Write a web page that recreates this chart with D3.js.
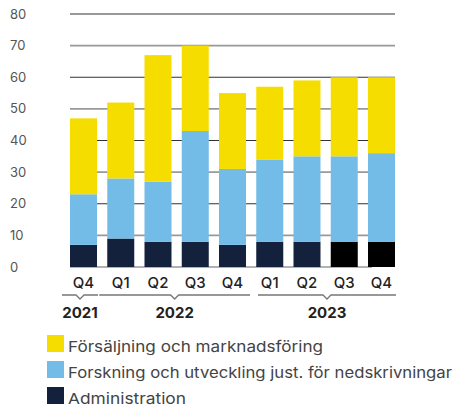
<!DOCTYPE html>
<html>
<head>
<meta charset="utf-8">
<script src="https://cdn.jsdelivr.net/npm/d3@7"></script>
<style>
  body { margin: 0; background: #fff; }
  svg { font-family: Inter, "Noto Sans", sans-serif; }
</style>
</head>
<body>
<svg width="455" height="407"></svg>
<script>
const quarters = ['Q4', 'Q1', 'Q2', 'Q3', 'Q4', 'Q1', 'Q2', 'Q3', 'Q4'];
const years = ['2021', '2022', '2023'];
const yearOf = [0, 1, 1, 1, 1, 2, 2, 2, 2];
const admin = [7, 9, 8, 8, 7, 8, 8, 8, 8];
const research = [16, 19, 19, 35, 24, 26, 27, 27, 28];
const sales = [24, 24, 40, 27, 24, 23, 24, 25, 24];
const seriesNames = ['Försäljning och marknadsföring', 'Forskning och utveckling just. för nedskrivningar', 'Administration'];
const yTicks = [0, 10, 20, 30, 40, 50, 60, 70, 80];

const svg = d3.select('svg');
const ids = d3.range(quarters.length);

const x = d3.scaleBand().domain(ids).range([70, 395]).paddingInner(0.275).paddingOuter(0);
const y = d3.scaleLinear().domain([0, 80]).range([267, 14]);

// gridlines
svg.append('g').selectAll('line')
  .data(yTicks.filter(d => d > 0))
  .enter().append('line')
  .attr('x1', 70).attr('x2', 395)
  .attr('y1', d => y(d)).attr('y2', d => y(d))
  .attr('stroke', d => d % 20 === 0 ? '#333' : '#999')
  .attr('stroke-width', d => d % 20 === 0 ? 1 : 1.6);

svg.append('line')
  .attr('x1', 70).attr('x2', 372)
  .attr('y1', y(0)).attr('y2', y(0))
  .attr('stroke', '#999').attr('stroke-width', 1.6);

svg.append('g').selectAll('text')
  .data(yTicks)
  .enter().append('text')
  .attr('x', 10)
  .attr('y', d => y(d))
  .attr('dy', '0.35em')
  .attr('fill', '#555')
  .style('font-size', '13px')
  .text(d => d);

// stacked bars
const rows = ids.map(i => ({ i, admin: admin[i], research: research[i], sales: sales[i] }));
const stack = d3.stack().keys(['admin', 'research', 'sales'])(rows);
const colors = { admin: '#14213d', research: '#74bce8', sales: '#f6dd00' };

svg.append('g').selectAll('g')
  .data(stack)
  .enter().append('g')
  .selectAll('rect')
  .data(s => s.map(d => ({ key: s.key, d })))
  .enter().append('rect')
  .attr('x', o => x(o.d.data.i))
  .attr('width', x.bandwidth())
  .attr('y', o => y(o.d[1]))
  .attr('height', o => y(o.d[0]) - y(o.d[1]))
  .attr('fill', o => (o.key === 'admin' && o.d.data.i >= 7) ? '#000' : colors[o.key]);

// quarter labels
svg.append('g').selectAll('text')
  .data(ids)
  .enter().append('text')
  .attr('x', i => x(i) + x.bandwidth() / 2)
  .attr('y', 283)
  .attr('dy', '0.35em')
  .attr('text-anchor', 'middle')
  .attr('fill', '#222')
  .style('font-size', '15px')
  .style('font-weight', 500)
  .text(i => quarters[i]);

// year brackets
const yearSpans = years.map((yr, k) => {
  const idx = ids.filter(i => yearOf[i] === k);
  return { yr, x0: x(idx[0]) - 8, x1: x(idx[idx.length - 1]) + x.bandwidth() + 1 };
});
yearSpans[1].x1 = 250;
yearSpans[2].x0 = 258;

const br = svg.append('g');
yearSpans.forEach(s => {
  const c = (s.x0 + s.x1) / 2;
  br.append('path')
    .attr('d', `M${s.x0},295H${c - 4}L${c},299L${c + 4},295H${s.x1}`)
    .attr('fill', 'none')
    .attr('stroke', '#777')
    .attr('stroke-width', 1.3);
  br.append('text')
    .attr('x', c)
    .attr('y', 313)
    .attr('dy', '0.35em')
    .attr('text-anchor', 'middle')
    .attr('fill', '#222')
    .style('font-size', '15px')
    .style('font-weight', 700)
    .text(s.yr);
});

// legend
const legendColors = [colors.sales, colors.research, colors.admin];
const legendWidths = [255, 384, 118];
const lg = svg.append('g');
seriesNames.forEach((name, k) => {
  const top = 335 + k * 26;
  lg.append('rect')
    .attr('x', 47).attr('y', top)
    .attr('width', 17).attr('height', 17)
    .attr('fill', legendColors[k]);
  lg.append('text')
    .attr('x', 68)
    .attr('y', top + 12)
    .attr('dy', '0.35em')
    .attr('fill', '#444')
    .attr('textLength', legendWidths[k])
    .attr('lengthAdjust', 'spacingAndGlyphs')
    .style('font-size', '15px')
    .text(name);
});
</script>
</body>
</html>
